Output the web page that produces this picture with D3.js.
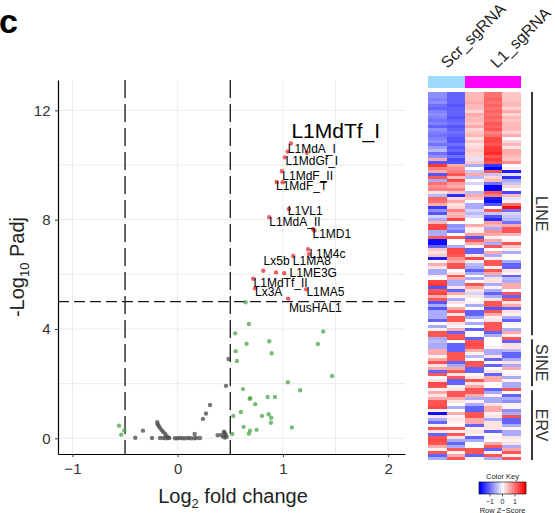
<!DOCTYPE html>
<html><head><meta charset="utf-8">
<script src="https://cdn.jsdelivr.net/npm/d3@7"></script>
<style>body{margin:0;background:#fff}svg{display:block;font-family:"Liberation Sans",Arial,Helvetica,sans-serif}</style>
</head><body><svg id="c" width="555" height="513"></svg>
<script>
// ---------- Volcano data ----------
const log2FC = [
 1.076,1.045,1.228,1.019,0.990,0.940,0.997,1.057,0.870,1.288,1.300,1.240,1.247,1.098,0.813,0.934,1.012,0.718,0.734,1.221,1.050,
 0.645,0.677,0.547,0.655,0.870,1.383,1.332,0.551,0.893,0.563,1.468,1.047,1.164,0.620,0.684,0.690,0.855,0.924,0.737,0.601,0.528,0.801,0.864,0.889,0.886,0.627,1.085,0.687,0.677,0.750,0.519,-0.557,-0.507,-0.536,
 0.484,0.459,0.307,0.269,0.240,0.161,-0.330,-0.403,-0.244,
 -0.194,-0.190,-0.180,-0.168,-0.152,-0.137,-0.118,-0.104,-0.089,
 -0.168,-0.137,-0.111,-0.080,-0.026,-0.004,0.022,0.047,0.072,0.101,0.123,0.155,0.180,0.212,
 0.380,0.414,0.433,0.446,0.456,0.465,0.440,0.450
];
const negLog10Padj = [
 10.79,10.49,10.45,10.28,9.77,9.38,9.37,8.39,8.09,7.65,7.60,6.92,6.74,6.67,6.13,6.07,6.04,5.84,5.49,5.45,5.11,
 4.98,4.18,3.84,3.46,3.55,3.91,3.45,3.19,3.11,2.83,2.28,2.05,1.76,1.80,1.45,1.47,1.51,1.51,1.25,0.96,0.82,0.82,0.88,0.75,0.57,0.42,0.40,0.28,0.17,0.31,0.16,0.46,0.29,0.13,
 2.90,1.92,1.22,0.91,0.71,0.16,0.28,0.02,0.01,
 0.585,0.51,0.45,0.38,0.30,0.23,0.16,0.08,0.02,
 0.01,0.01,0.0,0.01,0.0,0.0,0.01,0.0,0.0,0.01,0.0,0.0,0.01,0.01,
 0.11,0.12,0.06,0.20,0.13,0.06,0.24,0.03
];
const padjThreshold = 5;
const fcThreshold = 0.5;
const xTicks = [-1, 0, 1, 2];
const yTicks = [0, 4, 8, 12];
const xMinor = [-0.5, 0.5, 1.5];
const yMinor = [2, 6, 10];

const labelNames = ["L1MdTf_I","L1MdA_I","L1MdGf_I","L1MdF_II","L1MdF_T","L1VL1","L1MdA_II","L1MD1","L1M4c","Lx5b","L1MA8","L1ME3G","L1MdTf_II","Lx3A","L1MA5","MusHAL1"];
const labelX = [1.502,1.275,1.275,1.235,1.178,1.212,1.114,1.465,1.423,0.940,1.275,1.288,0.978,0.865,1.404,1.309];
const labelY = [11.28,10.61,10.15,9.60,9.23,8.32,7.93,7.50,6.77,6.49,6.49,6.07,5.71,5.36,5.36,4.79];
const labelBig = [true,false,false,false,false,false,false,false,false,false,false,false,false,false,false,false];

// ---------- Heatmap data ----------
const sampleNames = ["Scr_1","Scr_2","L1_1","L1_2","L1_3"];
const groupNames = ["Scr_sgRNA","L1_sgRNA"];
const groupSizes = [2, 3];
const familyNames = ["LINE","SINE","ERV"];
const familyRows = [82, 17, 24];
const keyTicks = [-1, 0, 1];
const heatRows = [
[-0.8,-1.1,0.5,1.0,0.4],[-0.8,-1.1,0.5,1.0,0.4],[-0.9,-1.1,0.5,1.1,0.4],[-0.8,-1.1,0.6,1.0,0.5],[-1.0,-1.2,0.5,1.1,0.5],
[-1.1,-1.1,0.5,1.0,0.3],[-0.9,-1.1,0.3,1.1,0.6],[-0.8,-1.1,0.6,1.0,0.3],[-0.9,-1.2,0.5,1.1,0.5],[-1.0,-1.1,0.5,1.0,0.4],
[-0.9,-1.0,0.4,1.2,0.5],[-1.1,-1.2,0.6,1.1,0.5],[-0.8,-1.1,0.3,1.2,0.5],[-0.9,-1.0,0.4,0.9,0.3],[-1.0,-1.1,0.5,1.0,0.6],
[-0.9,-1.2,0.2,1.3,0.0],[-0.8,-1.2,0.4,1.3,0.3],[-1.0,-1.0,0.2,1.2,0.5],[-0.7,-1.2,0.3,1.4,0.2],[-0.5,-1.1,0.4,1.4,0.6],
[-1.0,-1.3,0.3,1.5,0.6],[-0.8,-1.0,0.3,1.2,0.5],[0.6,-1.3,-0.2,1.4,0.4],[-1.2,-1.2,0.4,1.2,0.8],[1.4,0.6,-0.6,-1.4,0.0],
[0.9,0.8,0.0,-1.8,0.1],[0.6,0.9,-0.4,1.2,-1.6],[-1.2,1.2,0.6,-0.4,-0.2],[1.2,0.5,-0.5,0.3,-1.5],[-0.6,1.3,0.0,0.5,-0.6],
[1.0,0.7,-0.3,-1.0,-0.4],[0.8,0.6,0.0,-1.8,0.3],[0.9,0.9,0.0,-1.8,0.0],[0.2,0.4,-0.5,1.2,-1.3],[-0.5,-1.5,0.6,0.9,0.5],
[1.1,0.3,0.4,-1.6,-0.2],[1.0,0.6,0.0,-1.7,0.1],[0.6,0.2,-0.6,-1.2,1.0],[-1.4,0.3,-0.6,0.0,1.7],[-0.8,0.9,-0.3,1.2,-1.0],
[-1.2,0.5,-0.5,-0.4,-0.3],
[-0.3,0.6,-0.3,-1.2,-0.4],[-0.6,1.3,0.0,-1.5,-0.5],[0.5,0.0,0.0,0.7,-1.0],[1.3,-0.8,0.6,0.5,0.6],[1.3,-0.7,0.1,-0.6,1.2],
[-0.6,-1.0,0.1,0.8,1.2],[-0.6,0.0,0.7,0.6,0.5],[1.2,1.2,-1.2,0.1,0.0],[-1.7,0.0,1.2,0.6,0.1],[-1.7,0.0,0.6,-0.6,1.2],
[-1.1,-0.6,0.1,1.2,0.4],[0.4,1.3,-1.1,0.0,0.1],[0.2,1.3,-1.1,0.6,-0.6],[0.4,1.2,0.2,-0.6,0.0],[-1.6,0.8,1.3,0.1,0.0],
[0.0,0.6,0.1,1.2,-0.6],[0.6,1.2,-0.5,1.2,-1.1],[0.2,1.2,-0.6,0.1,-1.1],[-0.6,0.0,-1.1,1.2,0.2],[-0.6,0.2,-0.6,0.6,0.1],
[0.1,1.2,0.0,-0.6,-1.1],[0.0,0.6,-0.6,0.2,-0.5],[1.3,-0.6,0.0,0.2,-0.6],[1.4,-0.6,1.2,-0.6,0.6],[-1.2,0.2,0.6,0.1,0.6],
[1.2,-1.1,0.2,-0.6,0.0],[1.3,0.6,-0.3,-1.1,1.2],[0.6,0.1,0.2,-0.6,-1.1],[1.2,-0.6,0.0,0.2,1.2],[-1.2,0.2,0.1,1.2,0.2],
[-0.6,0.0,-0.6,1.2,0.6],[-1.2,0.6,0.0,-1.2,-1.1],[-0.6,1.2,-1.1,1.2,0.2],[-0.6,0.2,-1.1,0.6,0.1],[-0.6,1.2,-0.6,0.1,-0.6],
[-1.1,1.2,0.0,0.2,-1.1],[0.0,0.2,-0.6,1.2,0.1],[-0.6,0.0,0.0,1.2,0.0],[0.1,0.6,-1.1,1.2,-0.6],[1.2,-1.1,0.0,-1.1,0.6],
[1.2,1.2,0.0,-0.6,0.1],
[-0.6,1.2,-1.1,0.0,1.2],[-0.5,0.0,1.2,0.0,-1.1],[-0.6,-1.1,1.3,0.0,0.2],[-0.6,-1.1,1.2,0.1,0.2],[0.6,-1.1,0.6,-0.6,-0.5],
[0.6,1.2,0.1,-0.6,-1.1],[0.1,1.2,-0.5,0.2,-1.1],[0.6,1.2,0.0,-1.1,-0.6],[1.2,-1.1,1.2,0.1,0.2],[0.2,-0.6,1.2,-1.1,-0.6],
[0.6,0.6,-1.1,0.0,0.6],[-1.1,1.2,-1.1,0.2,0.0],[1.2,0.2,0.0,-1.1,0.1],[0.0,1.2,0.2,0.6,-0.6],[0.2,-1.1,1.2,0.6,0.1],
[1.3,-1.1,0.2,0.0,-0.6],[1.2,0.1,0.6,0.0,-0.6],[0.1,0.2,1.2,-1.1,1.2],[0.6,1.2,1.2,-0.6,0.0],[0.2,1.2,0.6,0.1,-1.1],
[0.6,0.6,-0.6,-0.6,-0.6],[1.2,0.2,0.1,-0.6,-0.8],[1.2,0.0,-0.6,0.2,0.1],[1.3,-0.6,-1.1,0.6,0.1],[0.1,0.0,-1.1,0.6,-0.8],
[-1.7,0.6,1.2,0.1,-0.6],[0.2,0.1,1.2,0.2,1.2],[-0.6,0.2,0.6,-0.6,-1.1],[-1.1,0.1,0.6,0.2,-1.1],[0.1,0.0,-1.1,0.2,-0.6],
[1.2,1.2,0.1,0.2,0.1],[0.2,0.1,0.2,-1.1,-0.6],[-1.1,1.2,0.1,0.0,-0.6],[1.2,0.2,-1.1,0.1,0.2],[1.3,-0.6,-0.6,0.0,0.1],
[1.2,-1.1,0.0,0.6,0.2],[0.6,-0.6,0.0,1.2,-0.6],[0.1,1.2,1.2,-1.1,0.6],[1.2,0.1,1.2,0.1,1.2],[-1.1,0.6,-1.1,1.2,0.1],
[-0.6,1.2,0.1,-0.6,1.2]
];

// ---------- Drawing ----------
const svg = d3.select("#c");
const FONT = '"Liberation Sans",Arial,Helvetica,sans-serif';

svg.append("text").attr("x", -1).attr("y", 33).attr("font-size", 34).attr("font-weight", "bold").text("c");

const x = d3.scaleLinear().domain([-1.137, 2.16]).range([58, 405]);
const y = d3.scaleLinear().domain([-0.574, 13.11]).range([454, 80]);

const grid = svg.append("g");
grid.selectAll(".gx").data(xTicks.concat(xMinor)).join("line")
  .attr("x1", d => x(d)).attr("x2", d => x(d)).attr("y1", 80).attr("y2", 454)
  .attr("stroke", "#ebebeb").attr("stroke-width", 1);
grid.selectAll(".gy").data(yTicks.concat(yMinor)).join("line")
  .attr("x1", 58).attr("x2", 405).attr("y1", d => y(d)).attr("y2", d => y(d))
  .attr("stroke", "#ebebeb").attr("stroke-width", 1);

// threshold lines
svg.append("g").selectAll("line").data([-fcThreshold, fcThreshold]).join("line")
  .attr("x1", d => x(d)).attr("x2", d => x(d)).attr("y1", 80).attr("y2", 454)
  .attr("stroke", "#1a1a1a").attr("stroke-width", 1.3).attr("stroke-dasharray", "18,6");
svg.append("line").attr("x1", 58).attr("x2", 405).attr("y1", y(padjThreshold)).attr("y2", y(padjThreshold))
  .attr("stroke", "#1a1a1a").attr("stroke-width", 1.3).attr("stroke-dasharray", "11,5");

// points
const pts = log2FC.map((v, i) => ({x: v, y: negLog10Padj[i]}));
function ptColor(d) {
  if (d.y > padjThreshold) return "#e8292f";
  if (Math.abs(d.x) > fcThreshold) return "#4da64a";
  return "#4a4a4a";
}
svg.append("g").selectAll("circle").data(pts).join("circle")
  .attr("cx", d => x(d.x)).attr("cy", d => y(d.y)).attr("r", 2.2)
  .attr("fill", ptColor).attr("fill-opacity", 0.75);

// labels
svg.append("g").selectAll("text").data(labelNames).join("text")
  .attr("x", (d, i) => x(labelX[i])).attr("y", (d, i) => y(labelY[i]))
  .attr("dy", "0.36em").attr("text-anchor", "middle")
  .attr("font-size", (d, i) => labelBig[i] ? 21 : 12).attr("fill", "#000").text(d => d);

// axes
const gx = svg.append("g").attr("transform", "translate(0,454)")
  .call(d3.axisBottom(x).tickValues(xTicks).tickSize(3).tickSizeOuter(0).tickFormat(d => d < 0 ? "\u2212" + Math.abs(d) : d));
const gy = svg.append("g").attr("transform", "translate(58,0)")
  .call(d3.axisLeft(y).tickValues(yTicks).tickSize(3).tickSizeOuter(0));
[gx, gy].forEach(g => {
  g.select(".domain").attr("stroke", "#000").attr("stroke-width", 1.2);
  g.selectAll(".tick line").attr("stroke", "#333").attr("stroke-width", 1);
  g.selectAll(".tick text").attr("font-size", 15).attr("font-family", FONT).attr("fill", "#333");
});
gx.selectAll(".tick text").attr("dy", "0.95em");
gy.selectAll(".tick text").attr("dx", "-0.1em");

// axis titles
const xt = svg.append("text").attr("x", 233).attr("y", 503).attr("text-anchor", "middle").attr("font-size", 20).attr("fill", "#222");
xt.append("tspan").text("Log");
xt.append("tspan").attr("font-size", 13).attr("dy", 5).text("2");
xt.append("tspan").attr("dy", -5).text(" fold change");

const yt = svg.append("text").attr("transform", "translate(24,267) rotate(-90)").attr("text-anchor", "middle").attr("font-size", 20).attr("fill", "#222");
yt.append("tspan").text("-Log");
yt.append("tspan").attr("font-size", 13).attr("dy", 5).text("10");
yt.append("tspan").attr("dy", -5).text(" Padj");

// ---------- Heatmap ----------
const hx = d3.scaleBand().domain(sampleNames).range([428, 521]);
const hy = d3.scaleBand().domain(d3.range(heatRows.length)).range([92, 460]);
const zColor = d3.scaleLinear().domain([-1.8, 0, 1.8]).range(["#0000ff", "#ffffff", "#ff0000"]).clamp(true);

const cells = [];
heatRows.forEach((row, r) => row.forEach((v, c) => cells.push({r, c, v})));
svg.append("g").attr("shape-rendering", "crispEdges").selectAll("rect").data(cells).join("rect")
  .attr("x", d => hx(sampleNames[d.c])).attr("y", d => hy(d.r))
  .attr("width", hx.bandwidth() + 0.3).attr("height", hy.bandwidth() + 0.3)
  .attr("fill", d => zColor(d.v));

// group colour bar
const groupColors = ["#9dd9fb", "#ff00ff"];
let start = 0;
groupNames.forEach((g, i) => {
  const x0 = hx(sampleNames[start]);
  const x1 = hx(sampleNames[start + groupSizes[i] - 1]) + hx.bandwidth();
  svg.append("rect").attr("x", x0).attr("y", 76).attr("width", x1 - x0).attr("height", 12)
    .attr("fill", groupColors[i]).attr("shape-rendering", "crispEdges");
  const cx = (x0 + x1) / 2;
  svg.append("text").attr("transform", `translate(${cx + (i === 0 ? 1 : 4)},69) rotate(-45)`)
    .attr("font-size", 16).attr("fill", "#222").text(g);
  start += groupSizes[i];
});

// family brackets
let r0 = 0;
familyNames.forEach((f, i) => {
  const y0 = hy(r0) + (i === 0 ? 0 : 2);
  const y1 = hy(r0 + familyRows[i] - 1) + hy.bandwidth() - (i === familyNames.length - 1 ? 0 : 2);
  svg.append("line").attr("x1", 532).attr("x2", 532).attr("y1", y0).attr("y2", y1)
    .attr("stroke", "#222").attr("stroke-width", 1.8);
  svg.append("text").attr("transform", `translate(536,${(y0 + y1) / 2}) rotate(90)`)
    .attr("text-anchor", "middle").attr("font-size", 16).attr("fill", "#333").text(f);
  r0 += familyRows[i];
});

// colour key
const kx = d3.scaleLinear().domain([-1.88, 1.88]).range([479, 526]);
const keySteps = d3.range(-1.88, 1.88, 3.76 / 24);
svg.append("g").attr("shape-rendering", "crispEdges").selectAll("rect").data(keySteps).join("rect")
  .attr("x", d => kx(d)).attr("y", 482).attr("width", kx(3.76 / 24) - kx(0) + 0.4).attr("height", 12)
  .attr("fill", d => zColor(d + 3.76 / 48));
svg.append("rect").attr("x", 479).attr("y", 482).attr("width", 47).attr("height", 12)
  .attr("fill", "none").attr("stroke", "#000").attr("stroke-width", 0.6);
svg.append("text").attr("x", 502.5).attr("y", 479).attr("text-anchor", "middle").attr("font-size", 7.5).attr("fill", "#222").text("Color Key");
svg.append("g").selectAll("line").data(keyTicks).join("line")
  .attr("x1", d => kx(d)).attr("x2", d => kx(d)).attr("y1", 494).attr("y2", 496.5).attr("stroke", "#000").attr("stroke-width", 0.6);
svg.append("g").selectAll("text").data(keyTicks).join("text")
  .attr("x", d => kx(d)).attr("y", 504).attr("text-anchor", "middle").attr("font-size", 7).attr("fill", "#222")
  .text(d => d < 0 ? "\u22121" : d);
svg.append("text").attr("x", 502.5).attr("y", 513).attr("text-anchor", "middle").attr("font-size", 7.5).attr("fill", "#222").text("Row Z\u2212Score");
</script></body></html>
